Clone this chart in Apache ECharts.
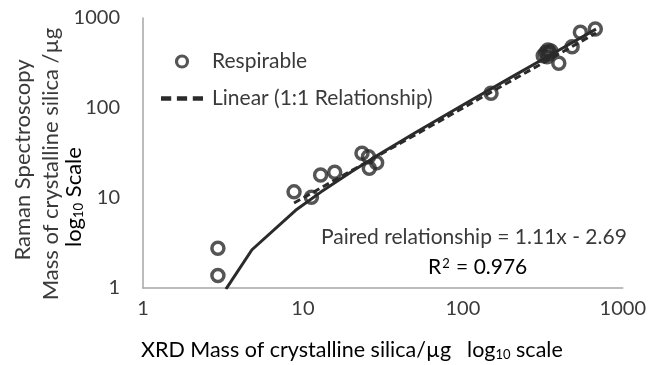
<!DOCTYPE html>
<html>
<head>
<meta charset="utf-8">
<script src="https://cdn.jsdelivr.net/npm/echarts@6/dist/echarts.min.js"></script>
<style>html,body{margin:0;padding:0;background:#fff}#c{width:649px;height:365px}</style>
</head>
<body>
<div id="c"></div>
<script>
// Respirable data points (XRD mass, Raman mass), µg
var respX = [2.94, 2.94, 8.8, 11.3, 12.9, 15.8, 23.4, 25.7, 28.9, 26.0, 150, 318, 330, 340, 348, 355, 336, 398, 482, 543, 673];
var respY = [2.76, 1.38, 11.7, 10.2, 18.0, 19.3, 31.4, 28.8, 24.7, 21.4, 146, 380, 415, 440, 405, 430, 370, 314, 480, 693, 755];
// Paired relationship trendline (as drawn)
var fitX = [3.3, 4.8, 9, 13, 20, 30, 50, 100, 200, 400, 680];
var fitY = [0.97, 2.66, 7.3, 11.7, 19.5, 30.6, 52.8, 108, 219, 441, 752];
// 1:1 relationship line
var oneX = [8.8, 680];
var oneY = [8.8, 680];
var xTicks = [1, 10, 100, 1000];
var yTicks = [1, 10, 100, 1000];

var FONT = 'Lato';
var TXT = '#3a3a3a';
var INK = '#2b2b2b';
var chart = echarts.init(document.getElementById('c'), null, {renderer: 'canvas'});
function pairs(a, b) { return a.map(function (v, i) { return [v, b[i]]; }); }
chart.setOption({
  animation: false,
  textStyle: {fontFamily: FONT},
  grid: {left: 143, right: 23, top: 18, bottom: 77},
  legend: {
    orient: 'vertical', left: 156, top: 46, itemGap: 16, itemWidth: 42, itemHeight: 11,
    textStyle: {fontFamily: FONT, fontSize: 21, color: TXT, padding: [0, 0, 0, 4]},
    data: [
      {name: 'Respirable', icon: 'circle', itemStyle: {color: 'rgba(0,0,0,0)', borderColor: INK, borderWidth: 3.2}},
      {name: 'Linear (1:1 Relationship)', icon: 'path://M0,0h9v4h-9z M14,0h9v4h-9z M28,0h9v4h-9z',
       itemStyle: {color: INK, borderWidth: 0}}
    ]
  },
  xAxis: {
    type: 'log', logBase: 10, min: xTicks[0], max: xTicks[xTicks.length - 1],
    axisLine: {lineStyle: {color: '#a6a6a6', width: 1.5}},
    axisTick: {show: false}, splitLine: {show: false}, minorTick: {show: false},
    axisLabel: {fontFamily: FONT, fontSize: 20, color: TXT, margin: 11, formatter: function (v) { return String(v); }}
  },
  yAxis: {
    type: 'log', logBase: 10, min: yTicks[0], max: yTicks[yTicks.length - 1],
    axisLine: {lineStyle: {color: '#a6a6a6', width: 1.5}},
    axisTick: {show: false}, splitLine: {show: false},
    axisLabel: {fontFamily: FONT, fontSize: 20, color: TXT, margin: 23, formatter: function (v) { return String(v); }}
  },
  series: [
    {
      name: 'Paired', type: 'line', data: pairs(fitX, fitY), showSymbol: false, symbol: 'none',
      lineStyle: {color: INK, width: 3}, z: 2
    },
    {
      name: 'Linear (1:1 Relationship)', type: 'line', data: pairs(oneX, oneY), showSymbol: false, symbol: 'none',
      lineStyle: {color: INK, width: 3, type: [7, 4]}, itemStyle: {color: INK}, z: 3
    },
    {
      name: 'Respirable', type: 'scatter', data: pairs(respX, respY), symbol: 'circle', symbolSize: 12,
      itemStyle: {color: 'rgba(0,0,0,0)', borderColor: INK, borderWidth: 3.5}, z: 4
    }
  ],
  graphic: [
    {type: 'text', left: 321, top: 227, style: {text: 'Paired relationship = 1.11x - 2.69', font: '21px Lato', fill: TXT}},
    {type: 'text', left: 428, top: 257, style: {
      text: '{a|R}{s|2}{a| = 0.976}',
      rich: {a: {fontFamily: FONT, fontSize: 21, color: TXT}, s: {fontFamily: FONT, fontSize: 13, color: TXT, verticalAlign: 'top', padding: [0,1,8,1]}}
    }},
    {type: 'text', left: 141, top: 339, style: {
      text: '{a|XRD Mass of crystalline silica/µg}{g|}{a|log}{s|10}{a| scale}',
      rich: {a: {fontFamily: FONT, fontSize: 21.5, color: TXT}, g: {width: 16}, s: {fontFamily: FONT, fontSize: 13, color: TXT, padding: [9,0,0,0]}}
    }},
    {type: 'text', x: 23, y: 160, rotation: Math.PI / 2, style: {
      text: 'Raman Spectroscopy', font: '22px Lato', fill: TXT, align: 'center', verticalAlign: 'middle'}},
    {type: 'text', x: 51, y: 164, rotation: Math.PI / 2, style: {
      text: 'Mass of crystalline silica /µg', font: '22px Lato', fill: TXT, align: 'center', verticalAlign: 'middle'}},
    {type: 'group', x: 76, y: 190, rotation: Math.PI / 2, children: [
      {type: 'text', x: -57, y: -13, style: {
        text: '{a|log}{s|10}{a| Scale}',
        rich: {a: {fontFamily: FONT, fontSize: 22, color: TXT}, s: {fontFamily: FONT, fontSize: 13, color: TXT, padding: [9,0,0,0]}}
      }}
    ]}
  ]
});
</script>
</body>
</html>
